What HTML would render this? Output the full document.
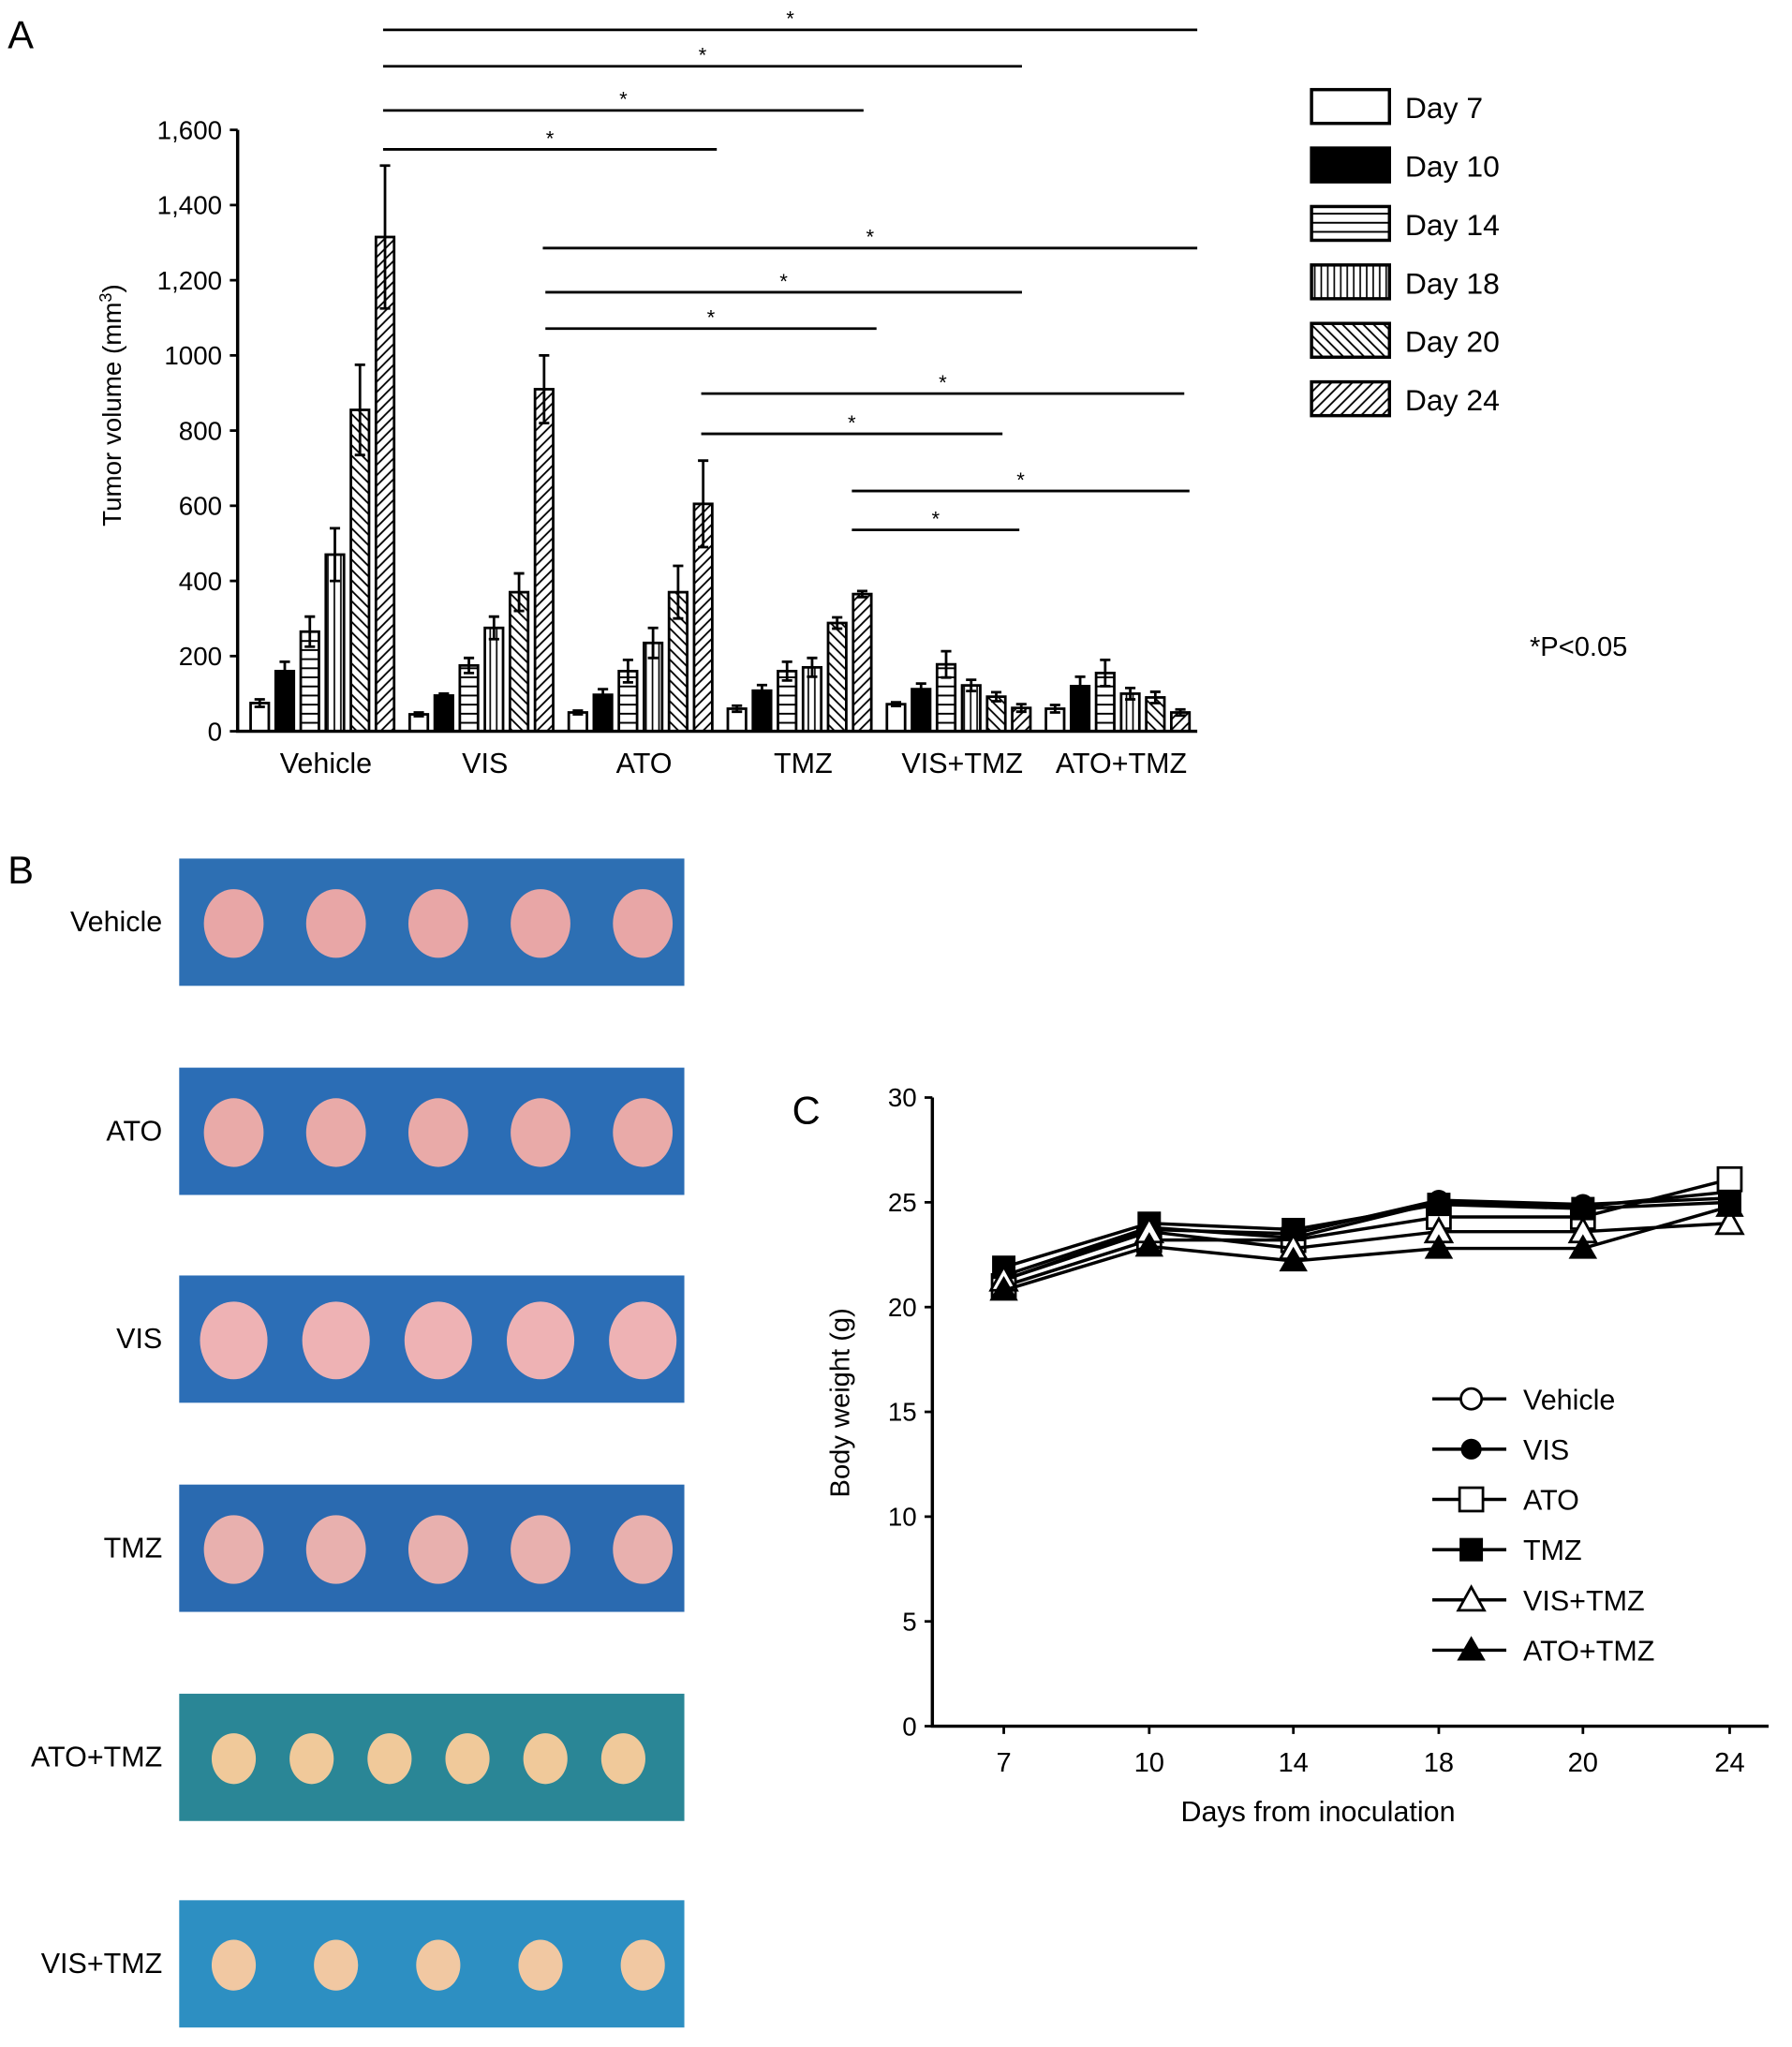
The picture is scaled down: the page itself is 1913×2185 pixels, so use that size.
<!DOCTYPE html>
<html><head><meta charset="utf-8"><style>
html,body{margin:0;padding:0;background:#fff;}
svg{display:block;font-family:"Liberation Sans",Arial,sans-serif;}
</style></head><body>
<svg id="fig" width="1913" height="2185" viewBox="0 0 1380 1576" preserveAspectRatio="none" xmlns="http://www.w3.org/2000/svg">
<defs>
<pattern id="p14" width="6" height="7" patternUnits="userSpaceOnUse"><rect width="6" height="7" fill="#fff"/><line x1="0" y1="3.5" x2="6" y2="3.5" stroke="#000" stroke-width="1.4"/></pattern>
<pattern id="p18" width="5" height="6" patternUnits="userSpaceOnUse"><rect width="5" height="6" fill="#fff"/><line x1="2.5" y1="0" x2="2.5" y2="6" stroke="#000" stroke-width="1.2"/></pattern>
<pattern id="p20" width="8" height="8" patternUnits="userSpaceOnUse"><rect width="8" height="8" fill="#fff"/><path d="M-2,-2 L10,10 M-2,6 L2,10 M6,-2 L10,2" stroke="#000" stroke-width="1.3"/></pattern>
<pattern id="p24" width="8" height="8" patternUnits="userSpaceOnUse"><rect width="8" height="8" fill="#fff"/><path d="M-2,10 L10,-2 M-2,2 L2,-2 M6,10 L10,6" stroke="#000" stroke-width="1.3"/></pattern>
</defs>
<g id="panelA"></g>
<g id="panelB"></g>
<g id="panelC"></g>
</svg>
<script>
// ---- Panel A data ----
const groups = ["Vehicle","VIS","ATO","TMZ","VIS+TMZ","ATO+TMZ"];
const days = ["Day 7","Day 10","Day 14","Day 18","Day 20","Day 24"];
const volVehicle = [75,160,265,470,855,1315];
const volVIS = [45,95,175,275,370,910];
const volATO = [50,97,160,235,370,605];
const volTMZ = [60,108,160,170,288,365];
const volVISTMZ = [72,112,178,122,92,62];
const volATOTMZ = [60,120,155,100,90,50];
const errVehicle = [10,25,40,70,120,190];
const errVIS = [5,5,20,30,50,90];
const errATO = [5,15,30,40,70,115];
const errTMZ = [8,15,25,25,15,8];
const errVISTMZ = [5,15,35,15,12,10];
const errATOTMZ = [10,25,35,15,15,8];
const yTicksA = [0,200,400,600,800,1000,1200,1400,1600];
const yTickLabelsA = ["0","200","400","600","800","1000","1,200","1,400","1,600"];
// ---- Panel C data ----
const dayLabels = ["7","10","14","18","20","24"];
const seriesNames = ["Vehicle","VIS","ATO","TMZ","VIS+TMZ","ATO+TMZ"];
const wVehicle = [21.5,23.8,23.3,25.0,24.8,25.5];
const wVIS = [21.3,23.7,23.5,25.1,24.9,25.2];
const wATO = [21.0,23.2,23.2,24.3,24.3,26.1];
const wTMZ = [21.9,24.0,23.7,24.9,24.7,25.0];
const wVISTMZ = [21.3,23.6,22.8,23.6,23.6,24.0];
const wATOTMZ = [20.8,22.9,22.2,22.8,22.8,24.8];
const yTicksC = [0,5,10,15,20,25,30];

const NS="http://www.w3.org/2000/svg";
function mk(parent,tag,attrs,text){const e=document.createElementNS(NS,tag);for(const k in attrs)e.setAttribute(k,attrs[k]);if(text!==undefined)e.textContent=text;parent.appendChild(e);return e;}

// ===== Panel A =====
const A=document.getElementById('panelA');
const yA=v=>563-v*(463/1600);
const gx=i=>193+i*122.5;
const bx=(i,j)=>gx(i)+j*19.3;
const fills=["#fff","#000","url(#p14)","url(#p18)","url(#p20)","url(#p24)"];
const vols=[volVehicle,volVIS,volATO,volTMZ,volVISTMZ,volATOTMZ];
const errs=[errVehicle,errVIS,errATO,errTMZ,errVISTMZ,errATOTMZ];
let t=mk(A,'text',{x:6,y:37,'font-size':30},'A');

for(let i=0;i<groups.length;i++){for(let j=0;j<6;j++){
 const v=vols[i][j],e=errs[i][j],x=bx(i,j),w=14;
 const r=mk(A,'rect',{x:x,y:yA(v),width:w,height:563-yA(v),fill:fills[j],stroke:'#000','stroke-width':2});
 
 
 const cx=x+w/2;
 const eb=mk(A,'path',{d:`M${cx},${yA(v+e)}V${yA(Math.max(0,v-e))}M${cx-4},${yA(v+e)}H${cx+4}M${cx-4},${yA(Math.max(0,v-e))}H${cx+4}`,stroke:'#000','stroke-width':2,fill:'none'});
 
}
 t=mk(A,'text',{x:gx(i)+58,y:595,'font-size':22,'text-anchor':'middle'},groups[i]);
 
}
let ax=mk(A,'path',{d:'M183,100V563H922',stroke:'#000','stroke-width':2.5,fill:'none'});

yTicksA.forEach((v,k)=>{mk(A,'line',{x1:177,x2:183,y1:yA(v),y2:yA(v),stroke:'#000','stroke-width':2});
 t=mk(A,'text',{x:171,y:yA(v)+7,'font-size':20,'text-anchor':'end'},yTickLabelsA[k]);
 });
t=mk(A,'text',{x:0,y:0,'font-size':20,'text-anchor':'middle',transform:'translate(93,312) rotate(-90)'});
t.innerHTML='Tumor volume (mm<tspan dy="-7" font-size="13">3</tspan><tspan dy="7">)</tspan>';

const sig=[[23,295,922],[51,295,787],[85,295,665],[115,295,552],[191,418,922],[225,420,787],[253,420,675],[303,540,912],[334,540,772],[378,656,916],[408,656,785]];
sig.forEach(s=>{const l=mk(A,'line',{x1:s[1],x2:s[2],y1:s[0],y2:s[0],stroke:'#000','stroke-width':2});
 
 mk(A,'text',{x:(s[1]+s[2])/2,y:s[0]-3,'font-size':16,'text-anchor':'middle'},'*');});
days.forEach((d,j)=>{const y=82+j*45;
 const r=mk(A,'rect',{x:1010,y:y-13,width:60,height:26,fill:fills[j],stroke:'#000','stroke-width':2.5});
 
 t=mk(A,'text',{x:1082,y:y+9,'font-size':23},d);
 });
t=mk(A,'text',{x:1178,y:505,'font-size':21},'*P<0.05');


// ===== Panel B =====
const B=document.getElementById('panelB');
t=mk(B,'text',{x:6,y:680,'font-size':30},'B');

const photos=[["Vehicle",661,"#2d6fb3",5,"#e8a6a6"],["ATO",822,"#2b6db5",5,"#e9aaa8"],["VIS",982,"#2c6eb6",5,"#eeb2b4"],["TMZ",1143,"#2a6ab0",5,"#e8b0ae"],["ATO+TMZ",1304,"#2a8696",6,"#f0c99a"],["VIS+TMZ",1463,"#2d8fc2",5,"#f1c8a2"]];
photos.forEach(p=>{
 const g=mk(B,'g',{});
 mk(g,'rect',{x:138,y:p[1],width:389,height:98,fill:p[2]});
 for(let k=0;k<p[3];k++){const cx=180+k*(300/(p[3]-1||1))*(p[3]==6?1:1.05);const big=p[0]==="VIS"?26:(p[0].includes('+')?17:23);
  mk(g,'ellipse',{cx:Math.min(cx,495),cy:p[1]+50,rx:big,ry:big*1.15,fill:p[4]});}
 t=mk(B,'text',{x:125,y:p[1]+56,'font-size':22,'text-anchor':'end'},p[0]);
 
});

// ===== Panel C =====
const C=document.getElementById('panelC');
const xDays=[773,885,996,1108,1219,1332];
const xC=i=>xDays[i];
const yC=v=>1329-v*(484/30);
t=mk(C,'text',{x:610,y:865,'font-size':30},'C');

ax=mk(C,'path',{d:'M718,845V1329H1362',stroke:'#000','stroke-width':2.5,fill:'none'});

yTicksC.forEach(v=>{mk(C,'line',{x1:712,x2:718,y1:yC(v),y2:yC(v),stroke:'#000','stroke-width':2});
 t=mk(C,'text',{x:706,y:yC(v)+7,'font-size':20,'text-anchor':'end'},String(v));
 });
dayLabels.forEach((d,i)=>{mk(C,'line',{x1:xC(i),x2:xC(i),y1:1329,y2:1335,stroke:'#000','stroke-width':2});
 t=mk(C,'text',{x:xC(i),y:1364,'font-size':21,'text-anchor':'middle'},d);
 });
t=mk(C,'text',{x:1015,y:1402,'font-size':22,'text-anchor':'middle'},'Days from inoculation');

t=mk(C,'text',{x:0,y:0,'font-size':21,'text-anchor':'middle',transform:'translate(654,1080) rotate(-90)'},'Body weight (g)');

const wser=[wVehicle,wVIS,wATO,wTMZ,wVISTMZ,wATOTMZ];
function marker(g,k,x,y){
 if(k===0) mk(g,'circle',{cx:x,cy:y,r:8,fill:'#fff',stroke:'#000','stroke-width':2});
 else if(k===1) mk(g,'circle',{cx:x,cy:y,r:8,fill:'#000'});
 else if(k===2) mk(g,'rect',{x:x-9,y:y-9,width:18,height:18,fill:'#fff',stroke:'#000','stroke-width':2});
 else if(k===3) mk(g,'rect',{x:x-9,y:y-9,width:18,height:18,fill:'#000'});
 else if(k===4) mk(g,'path',{d:`M${x},${y-10}L${x+10},${y+8}H${x-10}Z`,fill:'#fff',stroke:'#000','stroke-width':2});
 else mk(g,'path',{d:`M${x},${y-11}L${x+11},${y+8}H${x-11}Z`,fill:'#000'});
}
wser.forEach((s,k)=>{
 const g=mk(C,'g',{});
 mk(g,'polyline',{points:s.map((v,i)=>xC(i)+','+yC(v)).join(' '),fill:'none',stroke:'#000','stroke-width':2.5});
 s.forEach((v,i)=>marker(g,k,xC(i),yC(v)));
});
seriesNames.forEach((n,k)=>{const y=1077+k*38.7;
 const g=mk(C,'g',{});
 mk(g,'line',{x1:1103,x2:1160,y1:y,y2:y,stroke:'#000','stroke-width':2.5});
 marker(g,k,1133,y);
 mk(g,'text',{x:1173,y:y+8,'font-size':22},n);
});
</script>
</body></html>
